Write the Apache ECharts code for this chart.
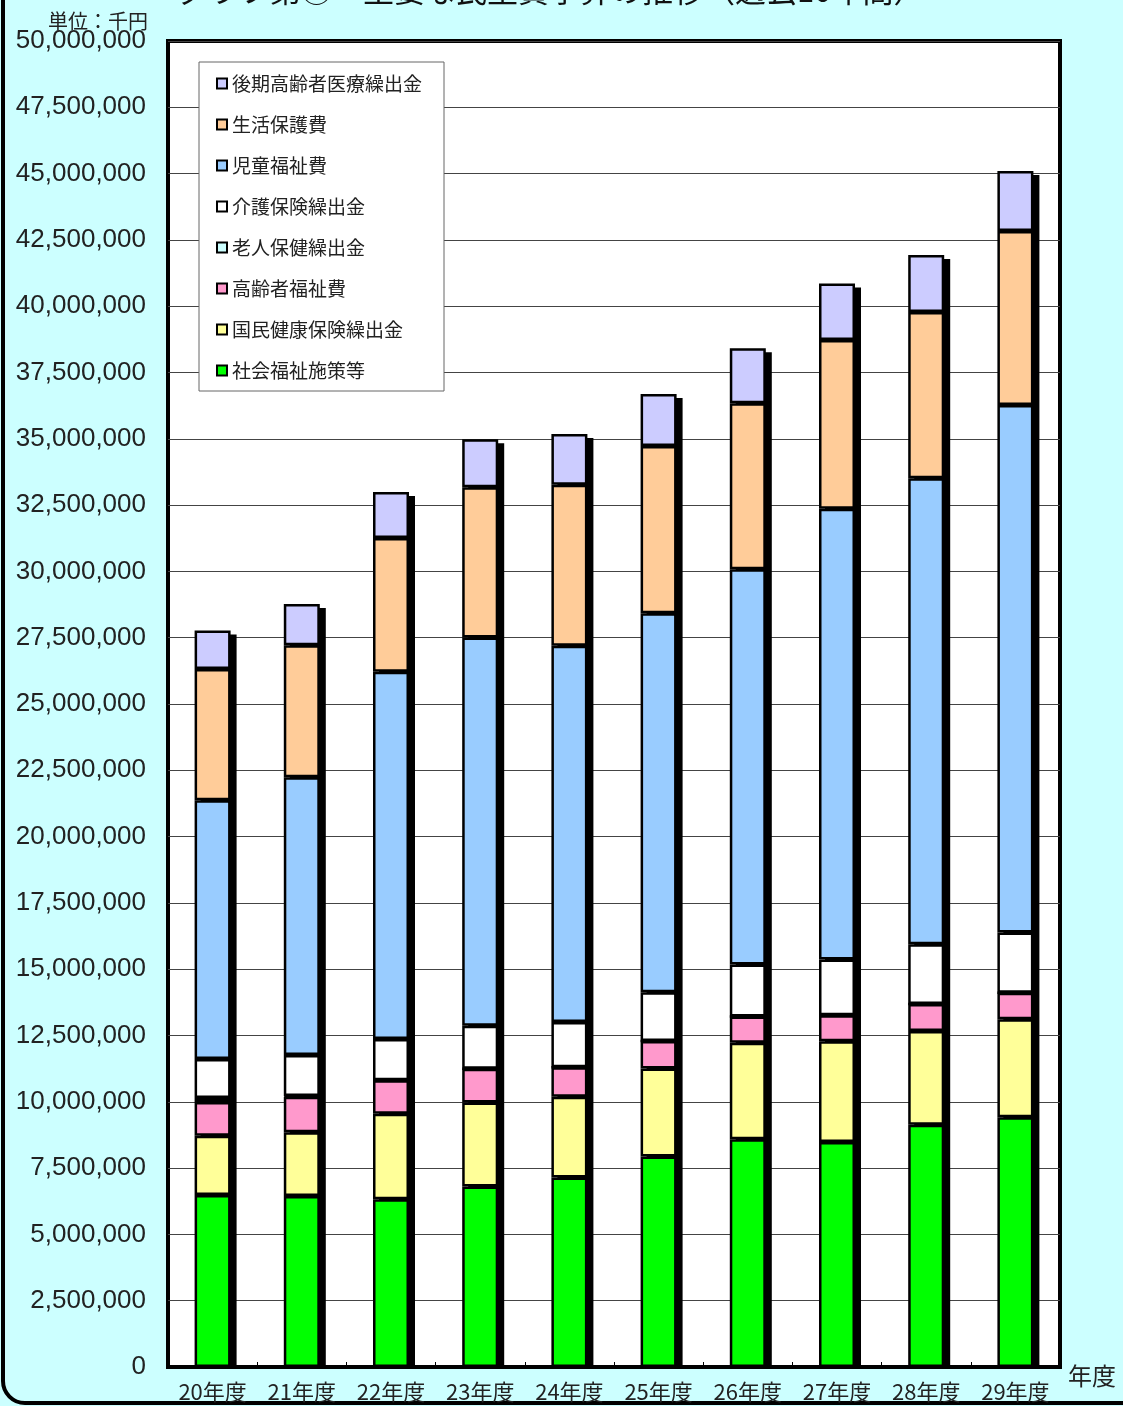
<!DOCTYPE html>
<html><head><meta charset="utf-8">
<script src="https://cdn.jsdelivr.net/npm/echarts@6/dist/echarts.min.js"></script>
<style>html,body{margin:0;padding:0;background:#CCFFFF;}#c{width:1123px;height:1406px;}</style>
</head><body><div id="c"></div>
<script>
// 単位：千円
const categories = ['20年度','21年度','22年度','23年度','24年度','25年度','26年度','27年度','28年度','29年度'];
const shakaiFukushi   = [6490000, 6450000, 6330000, 6810000, 7150000, 7940000, 8590000, 8480000, 9130000, 9420000];
const kokuhoKuridashi = [2230000, 2400000, 3220000, 3160000, 3040000, 3320000, 3640000, 3800000, 3540000, 3690000];
const koreishaFukushi = [1270000, 1340000, 1260000, 1280000, 1110000, 1030000,  990000,  980000, 1020000, 1000000];
const rojinHoken      = [ 150000,   30000,       0,       0,       0,       0,       0,       0,       0,       0];
const kaigoHoken      = [1470000, 1540000, 1560000, 1620000, 1710000, 1840000, 1960000, 2110000, 2250000, 2270000];
const jidoFukushi     = [9760000,10480000,13850000,14640000,14190000,14290000,14900000,16990000,17570000,19890000];
const seikatsuHogo    = [4950000, 4980000, 5040000, 5660000, 6070000, 6310000, 6260000, 6370000, 6270000, 6570000];
const kokiKoreisha    = [1450000, 1550000, 1730000, 1810000, 1910000, 1960000, 2070000, 2130000, 2150000, 2260000];
const yTicksMax = 50000000;
const yInterval = 2500000;

const seriesDefs = [
  ['社会福祉施策等', shakaiFukushi, '#00FF00'],
  ['国民健康保険繰出金', kokuhoKuridashi, '#FFFF99'],
  ['高齢者福祉費', koreishaFukushi, '#FF99CC'],
  ['老人保健繰出金', rojinHoken, '#CCFFFF'],
  ['介護保険繰出金', kaigoHoken, '#FFFFFF'],
  ['児童福祉費', jidoFukushi, '#99CCFF'],
  ['生活保護費', seikatsuHogo, '#FFCC99'],
  ['後期高齢者医療繰出金', kokiKoreisha, '#CCCCFF']
];
const totals = categories.map((c, i) => seriesDefs.reduce((s, d) => s + d[1][i], 0));

const BAR_W = 36;
const chart = echarts.init(document.getElementById('c'), null, {renderer:'canvas'});
const JP = '"Noto Sans CJK JP", "Noto Sans", sans-serif';

const barSeries = seriesDefs.map(d => ({
  name: d[0], type: 'bar', stack: 'total', data: d[1], barWidth: BAR_W, z: 3,
  itemStyle: {color: d[2], borderColor: '#000', borderWidth: 2.5}
}));

const shadowSeries = {
  name: 'shadow', type: 'custom', z: 2, silent: true,
  data: categories.map((c, i) => [i, totals[i]]),
  renderItem: function (params, api) {
    const top = api.coord([api.value(0), api.value(1)]);
    const base = api.coord([api.value(0), 0]);
    return {
      type: 'rect',
      shape: {x: top[0] - BAR_W / 2 + 6, y: top[1] + 4, width: BAR_W, height: base[1] - top[1] - 4},
      style: {fill: '#000'}
    };
  }
};

const option = {
  backgroundColor: '#CCFFFF',
  animation: false,
  title: {
    text: 'グラフ第③　主要な民生費予算の推移（過去10年間）',
    left: 172, top: -30,
    textStyle: {fontFamily: JP, fontSize: 31, fontWeight: 'normal', color: '#111'}
  },
  graphic: [
    {type:'rect', shape:{x:3, y:-40, width:1200, height:1443, r:22}, style:{fill:'none', stroke:'#000', lineWidth:4}, silent:true, z:0},
    {type:'text', left: 48, top: 11, style:{text:'単位：千円', font:'20px "Noto Sans CJK JP"', fill:'#222'}},
    {type:'text', left: 1068, top: 1364, style:{text:'年度', font:'24px "Noto Sans CJK JP"', fill:'#222'}}
  ],
  legend: {
    orient: 'vertical',
    left: 199, top: 62,
    data: seriesDefs.map(d => d[0]).reverse(),
    backgroundColor: '#fff',
    borderColor: '#666', borderWidth: 1,
    padding: [12, 22, 11, 17],
    itemWidth: 10, itemHeight: 10, itemGap: 22,
    icon: 'rect',
    itemStyle: {borderColor:'#000', borderWidth:2},
    textStyle: {fontFamily: JP, fontSize: 19, color: '#222'}
  },
  grid: {
    left: 168, right: 63, top: 41, bottom: 39,
    show: true, backgroundColor: '#fff', borderColor: '#000', borderWidth: 4
  },
  xAxis: {
    type: 'category', data: categories,
    axisLine: {show: true, lineStyle: {color:'#000', width: 4}},
    axisTick: {show: true, inside: true, length: 5, lineStyle:{color:'#000'}},
    axisLabel: {interval: 0, fontFamily: JP, fontSize: 22, color: '#222', margin: 14}
  },
  yAxis: {
    type: 'value', min: 0, max: yTicksMax, interval: yInterval,
    axisLine: {show: false}, axisTick: {show: false},
    splitLine: {lineStyle: {color: '#444', width: 1}},
    axisLabel: {fontFamily: '"Liberation Sans", Arial, sans-serif', fontSize: 26, color: '#222', margin: 22,
      formatter: v => v.toLocaleString('en-US')}
  },
  series: [shadowSeries].concat(barSeries)
};
chart.setOption(option);
</script></body></html>
